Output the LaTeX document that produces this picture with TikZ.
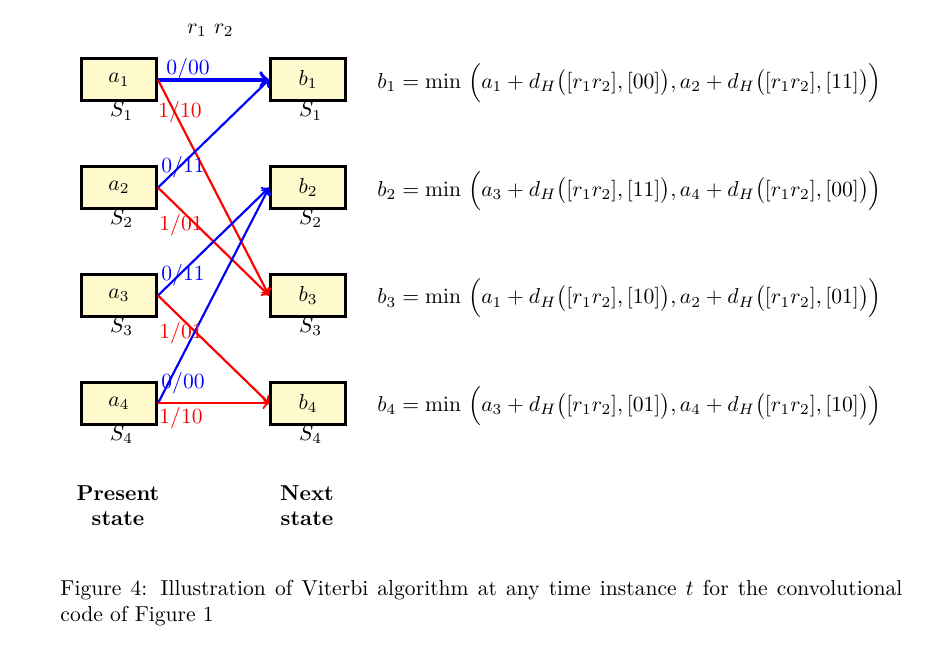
\documentclass[tikz,border=0pt]{standalone}
\usepackage{amsmath}
\usetikzlibrary{calc}
\definecolor{boxfill}{HTML}{FFFACD}
\begin{document}
\begin{tikzpicture}[x=0.46296pt,y=-0.46296pt,
  statebox/.style={draw=black,line width=1.5pt,fill=boxfill,minimum width=34.6pt,minimum height=19.5pt,inner sep=0pt},
  slabel/.style={anchor=base,inner sep=0pt},
  blueedge/.style={draw=blue,line width=1pt,->},
  rededge/.style={draw=red,line width=1pt,->},
  elabel/.style={anchor=base west,inner sep=0pt},
  eqn/.style={anchor=west,inner sep=0pt},
  heading/.style={align=center,inner sep=0pt,font=\bfseries}]
\useasboundingbox (0,0) rectangle (948,660);
% states
\foreach \i/\y in {1/79.8,2/187.6,3/295.5,4/403.3}{
  \node[statebox] (a\i) at (119,\y) {$a_\i$};
  \node[statebox] (b\i) at (308,\y) {$b_\i$};
  \node[slabel] (sa\i) at (121.5,\y+37) {$S_\i$};
  \node[slabel] (sb\i) at (310.5,\y+37) {$S_\i$};
}
\node[anchor=base,inner sep=0pt] (rr) at (210.5,33) {$r_1\ r_2$};
% edges
\draw[blueedge,line width=1.8pt] (a1.east) -- (b1.west);
\draw[rededge] (a1.east) -- (b3.west);
\draw[blueedge] (a2.east) -- (b1.west);
\draw[rededge] (a2.east) -- (b3.west);
\draw[blueedge] (a3.east) -- (b2.west);
\draw[rededge] (a3.east) -- (b4.west);
\draw[blueedge] (a4.east) -- (b2.west);
\draw[rededge] (a4.east) -- (b4.west);
% edge labels
\node[elabel,text=blue] (l1u) at ($(a1.east)+(8,-5)$) {0/00};
\node[elabel,text=red]  (l1d) at ($(a1.east)+(0,38)$) {1/10};
\node[elabel,text=blue] (l2u) at ($(a2.east)+(3,-15)$) {0/11};
\node[elabel,text=red]  (l2d) at ($(a2.east)+(1,43)$) {1/01};
\node[elabel,text=blue] (l3u) at ($(a3.east)+(3,-15)$) {0/11};
\node[elabel,text=red]  (l3d) at ($(a3.east)+(1,43)$) {1/01};
\node[elabel,text=blue] (l4u) at ($(a4.east)+(3,-15)$) {0/00};
\node[elabel,text=red]  (l4d) at ($(a4.east)+(1,20.5)$) {1/10};
% equations
\node[eqn] (eq1) at (377,82.8) {$b_1 = \min\,\Big(a_1 + d_H\big([r_1r_2],[00]\big), a_2 + d_H\big([r_1r_2],[11]\big)\Big)$};
\node[eqn] (eq2) at (377,190.6) {$b_2 = \min\,\Big(a_3 + d_H\big([r_1r_2],[11]\big), a_4 + d_H\big([r_1r_2],[00]\big)\Big)$};
\node[eqn] (eq3) at (377,298.5) {$b_3 = \min\,\Big(a_1 + d_H\big([r_1r_2],[10]\big), a_2 + d_H\big([r_1r_2],[01]\big)\Big)$};
\node[eqn] (eq4) at (377,406.3) {$b_4 = \min\,\Big(a_3 + d_H\big([r_1r_2],[01]\big), a_4 + d_H\big([r_1r_2],[10]\big)\Big)$};
% headings
\node[heading,anchor=base] (hp) at (118,525) {Present\\[-0.8pt]state};
\node[heading,anchor=base] (hn) at (307,525) {Next\\[-0.8pt]state};
% caption
\node[anchor=base west,inner sep=0pt] (cap1) at (60,595) {\makebox[389.8pt][s]{Figure 4: Illustration of Viterbi algorithm at any time instance $t$ for the convolutional}};
\node[anchor=base west,inner sep=0pt] (cap2) at (60,621) {code of Figure 1};
\end{tikzpicture}
\end{document}
